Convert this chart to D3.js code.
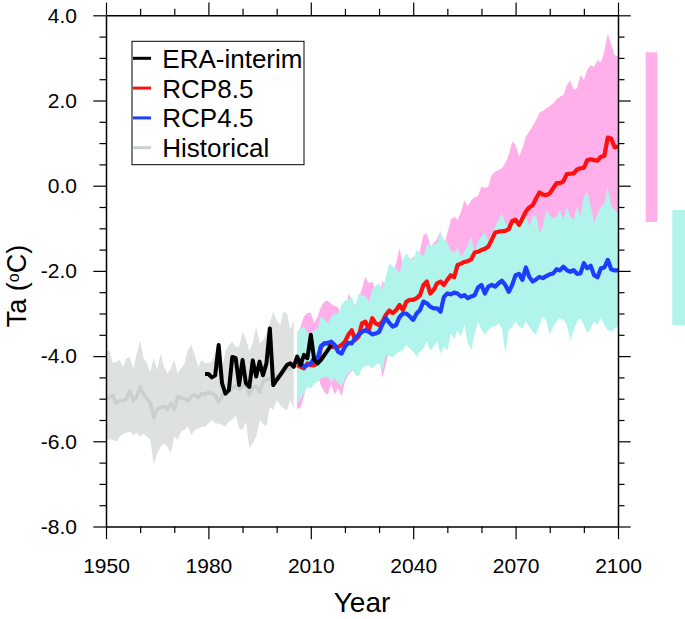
<!DOCTYPE html>
<html>
<head>
<meta charset="utf-8">
<script src="https://cdn.jsdelivr.net/npm/d3@7"></script>
<style>
  html, body { margin: 0; padding: 0; background: #fff; }
  svg { display: block; font-family: "Liberation Sans", Arial, Helvetica, sans-serif; }
</style>
</head>
<body>
<div id="chart"></div>
<script>
// Ta time series: historical run, ERA-interim, RCP8.5 / RCP4.5 projections

// historical ensemble 1950-2005
const histStart = 1950;
const histMean = [
  -5.05, -4.95, -4.92, -5.10, -5.05, -5.05, -5.00, -4.82, -5.05, -4.95,
  -4.72, -4.90, -5.00, -5.10, -5.45, -5.25, -5.20, -5.18, -5.25, -5.10,
  -5.25, -4.95, -4.98, -5.00, -5.05, -4.95, -4.90, -4.98, -4.88, -4.90,
  -4.85, -4.88, -4.92, -5.08, -4.95, -4.80, -4.82, -4.75, -4.70, -4.78,
  -4.72, -4.68, -4.90, -4.75, -4.70, -4.85, -4.60, -4.55, -4.55, -4.45,
  -4.50, -4.40, -4.35, -4.30, -4.30, -4.25
];
const histHigh = [
  -3.90, -3.86, -4.17, -4.13, -4.09, -4.25, -4.05, -4.03, -4.29, -3.94,
  -3.63, -4.05, -4.17, -4.37, -4.05, -4.33, -3.94, -4.25, -4.41, -4.29,
  -4.09, -4.41, -4.29, -4.17, -3.86, -3.74, -3.98, -4.25, -4.09, -4.16,
  -4.17, -4.13, -3.90, -3.82, -4.29, -3.90, -3.74, -3.66, -3.78, -3.78,
  -3.43, -3.59, -3.90, -3.70, -3.31, -3.70, -3.63, -3.47, -3.23, -2.96,
  -3.16, -3.27, -2.96, -3.00, -3.39, -3.16
];
const histLow = [
  -5.97, -5.95, -5.97, -6.01, -5.89, -5.83, -5.80, -5.77, -5.85, -5.81,
  -5.89, -5.83, -5.89, -5.97, -6.55, -6.28, -6.13, -6.05, -6.13, -6.28,
  -5.89, -5.97, -5.77, -5.73, -5.66, -5.85, -5.73, -5.70, -5.66, -5.66,
  -5.58, -5.50, -5.58, -5.58, -5.62, -5.66, -5.54, -5.50, -5.38, -5.70,
  -5.73, -5.54, -6.16, -6.05, -5.89, -5.50, -5.58, -5.66, -5.19, -5.27,
  -5.03, -5.15, -5.23, -5.27, -5.03, -5.23
];

// ERA-interim 1979-2016
const eraStart = 1979;
const eraVals = [
  -4.42, -4.42, -4.50, -4.45, -3.74, -4.64, -4.88, -4.80, -4.02, -4.05,
  -4.68, -4.09, -4.64, -4.72, -4.10, -4.48, -4.13, -4.45, -4.17, -3.35,
  -4.68, -4.56, -4.45, -4.33, -4.21, -4.17, -4.25, -4.01, -4.21, -3.97,
  -4.05, -3.50, -4.09, -4.17, -4.09, -3.97, -3.86, -3.74
];

// scenarios 2006-2100
const rcpStart = 2006;
const rcp85Mean = [
  -4.21, -4.25, -4.29, -4.17, -4.21, -4.21, -4.17, -3.78, -3.70, -3.70,
  -3.78, -3.79, -3.79, -3.74, -3.66, -3.50, -3.39, -3.62, -3.54, -3.23,
  -3.19, -3.39, -3.11, -3.23, -3.27, -3.19, -3.03, -2.93, -2.99, -2.92,
  -2.80, -2.92, -2.72, -2.68, -2.68, -2.64, -2.57, -2.33, -2.25, -2.53,
  -2.45, -2.29, -2.25, -2.33, -2.21,
  -2.10, -2.15, -1.86, -1.83, -1.79, -1.77, -1.73, -1.57, -1.55, -1.51,
  -1.48, -1.43, -1.27, -1.10, -1.08, -1.07, -1.06, -1.02, -0.83, -0.80,
  -0.92, -0.77, -0.61, -0.51, -0.46, -0.30, -0.16, -0.21, -0.22, -0.18,
  -0.06, 0.06, 0.06, 0.10, 0.27, 0.28, 0.29, 0.38, 0.41, 0.42,
  0.60, 0.62, 0.60, 0.59, 0.68, 0.70, 1.13, 1.11, 0.90, 0.92
];
const rcp85High = [
  -3.54, -3.31, -3.07, -2.99, -2.98, -3.23, -3.07, -2.84, -2.72, -2.70,
  -2.78, -2.82, -2.86, -3.07, -3.15, -2.53, -2.68, -2.82, -2.68, -2.41,
  -2.14, -2.29, -2.25, -2.45, -2.61, -2.25, -2.29, -1.94, -2.07, -1.82,
  -1.47, -1.86, -1.90, -1.78, -1.67, -1.74, -1.51, -1.16, -1.12, -1.43,
  -1.35, -1.25, -1.08, -1.39, -1.12,
  -0.80, -0.73, -0.80, -0.61, -0.34, -0.49, -0.34, -0.27, -0.24, -0.02,
  -0.06, -0.02, 0.25, 0.33, 0.37, 0.41, 0.53, 0.72, 1.03, 0.96,
  0.68, 0.88, 1.15, 1.27, 1.40, 1.54, 1.71, 1.76, 1.82, 1.87,
  1.93, 2.03, 2.09, 2.13, 2.36, 2.47, 2.25, 2.29, 2.60, 2.48,
  2.72, 2.83, 2.79, 2.95, 2.89, 3.15, 3.58, 3.30, 3.07, 3.03
];
const rcp85Low = [
  -5.25, -5.20, -4.95, -4.60, -4.55, -4.50, -4.45, -4.70, -4.85, -4.90,
  -4.65, -4.90, -4.75, -4.95, -4.60, -4.45, -4.35, -4.30, -4.30, -4.15,
  -4.10, -4.15, -4.05, -4.10, -4.05, -4.50, -4.20, -3.85, -3.80, -3.75,
  -3.70, -3.60, -3.55, -3.60, -3.50, -3.55, -3.45, -3.40, -3.30, -3.40,
  -3.30, -3.25, -3.20, -3.15, -3.10,
  -3.05, -3.00, -2.95, -2.90, -2.85, -2.90, -2.80, -2.75, -2.70, -2.70,
  -2.65, -2.60, -2.60, -2.50, -2.45, -2.40, -2.45, -2.35, -2.30, -2.30,
  -2.25, -2.20, -2.15, -2.10, -2.10, -2.00, -2.00, -1.95, -1.90, -1.90,
  -1.85, -1.80, -1.75, -1.75, -1.70, -1.65, -1.65, -1.60, -1.55, -1.50,
  -1.50, -1.45, -1.40, -1.45, -1.35, -1.30, -1.25, -1.30, -1.25, -1.20
];
const rcp45Mean = [
  -4.17, -4.17, -4.25, -4.21, -4.17, -4.05, -4.05, -3.76, -3.70, -3.69,
  -3.66, -3.74, -3.90, -3.94, -3.78, -3.69, -3.70, -3.58, -3.50, -3.43,
  -3.39, -3.43, -3.49, -3.47, -3.43, -3.25, -3.11, -3.22, -3.31, -3.27,
  -3.08, -3.00, -3.00, -3.07, -3.15, -3.00, -2.92, -2.72, -2.76, -2.84,
  -2.88, -2.88, -2.96, -2.61, -2.53,
  -2.55, -2.51, -2.53, -2.60, -2.57, -2.64, -2.60, -2.57, -2.39, -2.33,
  -2.53, -2.37, -2.33, -2.37, -2.29, -2.23, -2.33, -2.49, -2.33, -2.10,
  -2.07, -2.21, -1.92, -2.14, -2.25, -2.20, -2.14, -2.17, -2.12, -2.08,
  -2.06, -1.96, -1.99, -1.90, -1.98, -2.02, -1.98, -2.07, -2.06, -1.82,
  -1.94, -1.88, -2.10, -2.15, -1.94, -1.92, -1.74, -1.96, -1.99, -1.99
];
const rcp45High = [
  -3.43, -3.35, -3.31, -3.45, -3.50, -3.40, -3.35, -3.05, -3.15, -3.23,
  -3.07, -3.02, -3.00, -2.80, -2.70, -2.68, -2.60, -2.84, -2.53, -2.58,
  -2.60, -2.72, -2.45, -2.35, -2.29, -2.45, -2.14, -1.82, -1.90, -1.94,
  -2.06, -1.74, -1.59, -1.70, -1.74, -1.51, -1.58, -1.67, -1.35, -1.43,
  -1.38, -1.35, -1.12, -1.25, -1.35,
  -1.51, -1.58, -1.45, -1.67, -1.55, -1.40, -1.20, -1.60, -1.30, -1.20,
  -1.12, -1.28, -1.12, -0.96, -0.80, -0.65, -0.88, -0.96, -0.80, -0.88,
  -0.73, -0.80, -0.65, -0.96, -0.73, -0.70, -1.12, -0.96, -0.57, -0.70,
  -0.77, -0.73, -0.57, -0.80, -0.49, -0.73, -0.80, -0.49, -0.73, -0.26,
  -0.14, -0.49, -0.88, -0.65, -0.49, -0.41, -0.02, -0.49, -0.57, -0.65
];
const rcp45Low = [
  -5.11, -4.99, -4.87, -4.72, -4.76, -4.64, -4.60, -4.52, -4.50, -4.48,
  -4.60, -4.52, -4.64, -4.72, -4.52, -4.41, -4.31, -4.44, -4.48, -4.29,
  -4.23, -4.21, -4.29, -4.21, -4.17, -4.34, -3.97, -4.00, -4.03, -3.94,
  -3.90, -3.86, -3.74, -3.82, -3.90, -4.01, -3.90, -3.82, -3.66, -3.86,
  -3.78, -3.66, -3.94, -3.78, -3.86,
  -3.47, -3.60, -3.39, -3.55, -3.27, -3.70, -3.86, -3.47, -3.19, -3.39,
  -3.50, -3.39, -3.31, -3.31, -3.23, -3.35, -3.93, -3.39, -3.31, -3.19,
  -3.31, -3.35, -3.19, -3.31, -3.43, -3.50, -3.27, -3.07, -3.19, -3.50,
  -3.31, -3.19, -3.11, -3.15, -3.27, -3.62, -3.39, -3.19, -3.11, -3.27,
  -3.47, -3.35, -3.19, -3.27, -3.11, -3.27, -3.39, -3.43, -3.35, -3.31
];

// end-of-century spread bars at the right edge
const spreadNames = ['RCP8.5', 'RCP4.5'];
const spreadHigh = [3.13, -0.57];
const spreadLow = [-0.85, -3.27];

// axes
const xMajor = [1950, 1980, 2010, 2040, 2070, 2100];
const xMinor = [1960, 1970, 1990, 2000, 2020, 2030, 2050, 2060, 2080, 2090];
const yMajor = [-8, -6, -4, -2, 0, 2, 4];
const yMinor = [-7.5, -7, -6.5, -5.5, -5, -4.5, -3.5, -3, -2.5, -1.5, -1, -0.5, 0.5, 1, 1.5, 2.5, 3, 3.5];

const legendNames = ['ERA-interim', 'RCP8.5', 'RCP4.5', 'Historical'];

const COL = {
  era: '#000000',
  r85: '#ff1010',
  r45: '#1f3dff',
  hist: '#cad0cd',
  histBand: '#dde1df',
  r85Band: '#ffb0ea',
  r45Band: '#b0f4ec'
};
const legendColors = [COL.era, COL.r85, COL.r45, COL.hist];

const W = 685, H = 619;
const x = d3.scaleLinear().domain([1950, 2100]).range([106, 618]);
const y = d3.scaleLinear().domain([-8, 4]).range([526.5, 15.3]);

const svg = d3.select('#chart').append('svg')
  .attr('width', W)
  .attr('height', H);

const toRows = (start, mean, lo, hi) =>
  mean.map((v, i) => ({ yr: start + i, v: v, lo: lo ? lo[i] : null, hi: hi ? hi[i] : null }));

const histRows = toRows(histStart, histMean, histLow, histHigh);
const eraRows = toRows(eraStart, eraVals);
const r85Rows = toRows(rcpStart, rcp85Mean, rcp85Low, rcp85High);
const r45Rows = toRows(rcpStart, rcp45Mean, rcp45Low, rcp45High);

const band = d3.area().x(d => x(d.yr)).y0(d => y(d.lo)).y1(d => y(d.hi));
const line = d3.line().x(d => x(d.yr)).y(d => y(d.v));

// shaded ranges
svg.append('path').attr('d', band(histRows)).attr('fill', COL.histBand);
svg.append('path').attr('d', band(r85Rows)).attr('fill', COL.r85Band);
svg.append('path').attr('d', band(r45Rows)).attr('fill', COL.r45Band);

// ensemble means + reanalysis
const drawLine = (rows, color, w) => svg.append('path')
  .attr('d', line(rows))
  .attr('fill', 'none')
  .attr('stroke', color)
  .attr('stroke-width', w)
  .attr('stroke-linejoin', 'round');

drawLine(histRows, COL.hist, 3.5);
drawLine(r85Rows, COL.r85, 4.2);
drawLine(r45Rows, COL.r45, 4.2);
drawLine(eraRows, COL.era, 4);

// axes: majors with labels, minors without, all ticks pointing outward
function axis(gen, scale, majors, minors, tf, fmt, pad) {
  const g = svg.append('g').attr('transform', tf);
  g.call(gen(scale).tickValues(majors).tickSize(12.7).tickSizeOuter(0)
    .tickPadding(pad || 0).tickFormat(fmt || (() => '')));
  g.append('g').call(gen(scale).tickValues(minors).tickSize(6.5).tickFormat(() => ''))
    .select('.domain').remove();
  g.selectAll('.domain').attr('stroke', '#000').attr('stroke-width', 1.5);
  g.selectAll('.tick line').attr('stroke', '#000').attr('stroke-width', 1.2);
  g.selectAll('text')
    .attr('fill', '#000')
    .attr('font-size', 21)
    .attr('font-family', '"Liberation Sans", Arial, Helvetica, sans-serif');
  g.attr('font-family', null).attr('font-size', null);
  return g;
}

axis(d3.axisBottom, x, xMajor, xMinor, 'translate(0,526.5)', d => String(d), 19);
axis(d3.axisTop, x, xMajor, xMinor, 'translate(0,15.3)');
axis(d3.axisLeft, y, yMajor, yMinor, 'translate(106,0)', d => d.toFixed(1), 16.3);
axis(d3.axisRight, y, yMajor, yMinor, 'translate(618,0)');

// axis titles
svg.append('text')
  .attr('x', 362)
  .attr('y', 612)
  .attr('text-anchor', 'middle')
  .attr('font-size', 28)
  .text('Year');

const yt = svg.append('text')
  .attr('transform', 'translate(26,286) rotate(-90)')
  .attr('text-anchor', 'middle')
  .attr('font-size', 27);
yt.append('tspan').text('Ta (');
yt.append('tspan').attr('font-size', 16).attr('baseline-shift', '45%').text('o');
yt.append('tspan').text('C)');

// spread bars
const barX = [645.7, 672.3];
const barW = [11.6, 12.7];
const barCol = [COL.r85Band, COL.r45Band];
svg.append('g').selectAll('rect')
  .data(spreadNames).join('rect')
  .attr('x', (d, i) => barX[i])
  .attr('width', (d, i) => barW[i])
  .attr('y', (d, i) => y(spreadHigh[i]))
  .attr('height', (d, i) => y(spreadLow[i]) - y(spreadHigh[i]))
  .attr('fill', (d, i) => barCol[i]);

// legend
const lg = svg.append('g');
lg.append('rect')
  .attr('x', 132).attr('y', 41.3)
  .attr('width', 172).attr('height', 123.4)
  .attr('fill', '#fff')
  .attr('stroke', '#000')
  .attr('stroke-width', 1);

const item = lg.selectAll('g.item')
  .data(legendNames).join('g')
  .attr('class', 'item')
  .attr('transform', (d, i) => `translate(0,${58.3 + i * 29.8})`);

item.append('line')
  .attr('x1', 133).attr('x2', 151)
  .attr('stroke', (d, i) => legendColors[i])
  .attr('stroke-width', 3);

item.append('text')
  .attr('x', 162.3)
  .attr('y', 9.5)
  .attr('font-size', 26)
  .attr('fill', '#000')
  .text(d => d);
</script>
</body>
</html>
